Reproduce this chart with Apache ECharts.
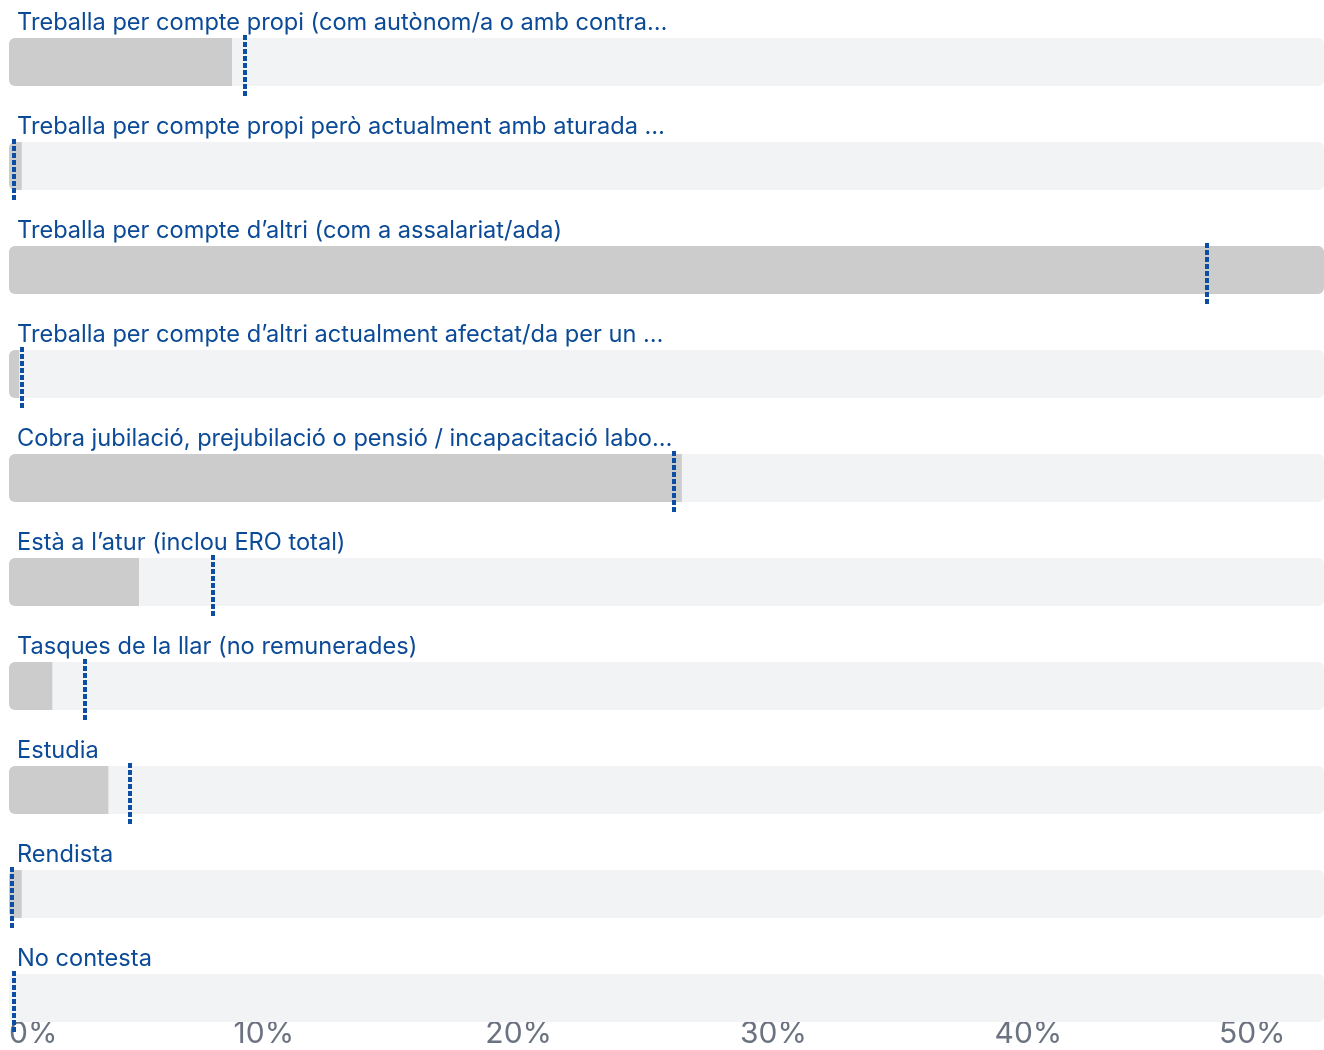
<!DOCTYPE html>
<html><head><meta charset="utf-8">
<script src="https://cdn.jsdelivr.net/npm/echarts@6/dist/echarts.min.js"></script>
<style>html,body{margin:0;padding:0;background:#fff;overflow:hidden}#c{width:1324px;height:1050px}</style>
</head><body><div id="c"></div>
<script>
const categories = [
  "Treballa per compte propi (com autònom/a o amb contra…",
  "Treballa per compte propi però actualment amb aturada …",
  "Treballa per compte d’altri (com a assalariat/ada)",
  "Treballa per compte d’altri actualment afectat/da per un …",
  "Cobra jubilació, prejubilació o pensió / incapacitació labo…",
  "Està a l’atur (inclou ERO total)",
  "Tasques de la llar (no remunerades)",
  "Estudia",
  "Rendista",
  "No contesta"
];
const values = [8.75, 0.5, 51.6, 0.4, 26.4, 5.1, 1.7, 3.9, 0.5, 0];
const markers = [9.25, 0.2, 47.0, 0.5, 26.1, 8.0, 3.0, 4.75, 0.1, 0.2];
const tickStep = 10;

const maxVal = Math.max(...values);
const lastTick = Math.floor(maxVal / tickStep) * tickStep;
const chart = echarts.init(document.getElementById('c'), null, {renderer: 'canvas'});
chart.setOption({
  animation: false,
  grid: {left: 9, right: 0, top: 10, bottom: 0},
  xAxis: {
    type: 'value', min: 0, max: maxVal, interval: tickStep,
    splitLine: {show: false}, axisLine: {show: false}, axisTick: {show: false},
    axisLabel: {
      formatter: v => (v === lastTick ? '{r|' + v + '%}' : v + '%'),
      color: '#6b7280', fontFamily: 'Inter', fontSize: 30,
      margin: -31, alignMinLabel: 'left',
      rich: {r: {color: '#6b7280', fontFamily: 'Inter', fontSize: 30, padding: [0, 62, 0, 0]}}
    }
  },
  yAxis: {type: 'category', data: categories, inverse: true, show: false},
  series: [
    {
      type: 'bar', barWidth: 48,
      data: values.map(v => ({value: v, itemStyle: {borderRadius: v >= maxVal ? 6 : [6, 0, 0, 6]}})),
      itemStyle: {color: '#cccccc'},
      showBackground: true,
      backgroundStyle: {color: '#f2f3f5', borderRadius: 6},
      z: 1
    },
    {
      type: 'custom', z: 5, clip: false,
      data: markers.map((m, i) => [m, i]),
      encode: {x: 0, y: 1},
      renderItem: function (params, api) {
        const idx = api.value(1);
        const p = api.coord([api.value(0), idx]);
        const p0 = api.coord([0, idx]);
        const lx = Math.round(p[0]);
        return {
          type: 'group',
          children: [
            {type: 'text', style: {text: categories[idx], x: p0[0] + 8, y: p[1] - 39, fill: '#0b4a96', font: '23.6px Inter', verticalAlign: 'middle', align: 'left'}},
            {type: 'line', shape: {x1: lx, y1: p[1] - 27, x2: lx, y2: p[1] + 36}, style: {stroke: '#0b4ea2', lineWidth: 4, lineDash: [5, 2]}}
          ]
        };
      }
    }
  ]
});
</script></body></html>
